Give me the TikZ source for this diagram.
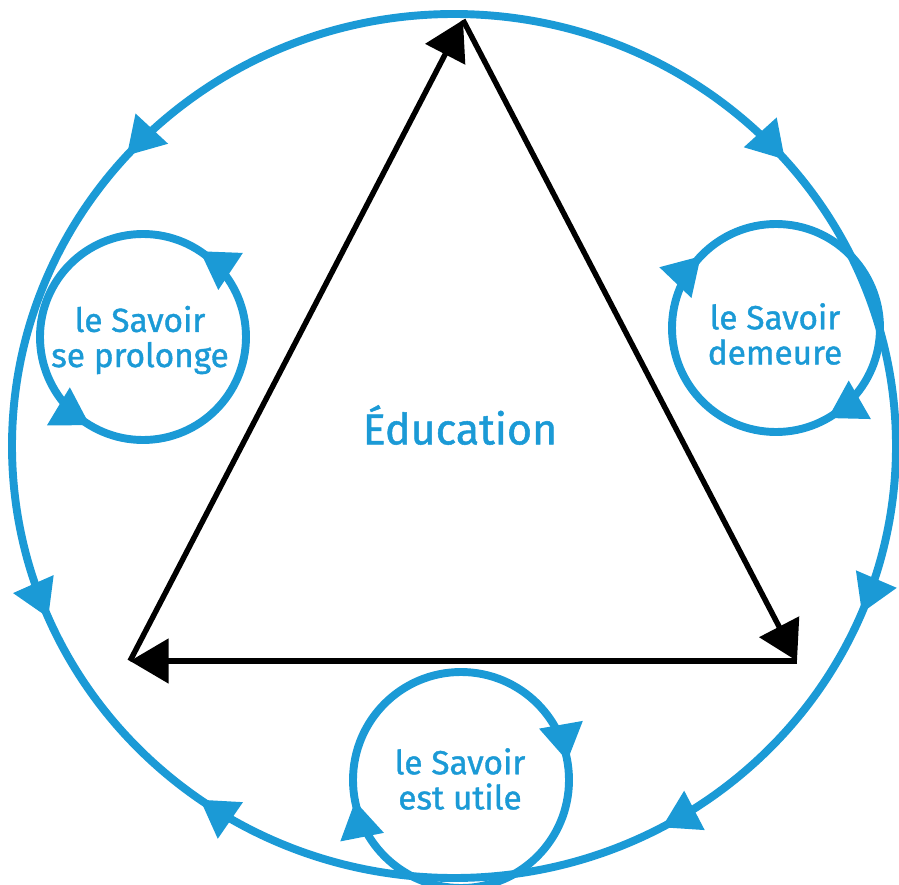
\documentclass[tikz,border=0pt]{standalone}
\usepackage{fontspec}
\setmainfont{Fira Sans}[FakeBold=1.2]
\usetikzlibrary{arrows.meta,decorations.markings}
\definecolor{savoirblue}{RGB}{27,154,214}

\tikzset{
	cycleline/.style={savoirblue, line width=4.5pt},
	tipfwd/.style={postaction={decorate, decoration={markings,
		mark=at position #1 with {\arrow{Triangle[length=21pt,width=24pt]}}}}},
	tipback/.style={postaction={decorate, decoration={markings,
		mark=at position #1 with {\arrowreversed{Triangle[length=21pt,width=24pt]}}}}},
	side/.style={black, line width=3.1pt, -{Triangle[length=22pt,width=25pt]}},
	savoirtext/.style={text=savoirblue, align=center, font=\fontsize{19}{20}\selectfont},
	edutext/.style={text=savoirblue, font=\fontsize{24.5}{28}\selectfont}
}

\begin{document}
\begin{tikzpicture}[x=0.02cm, y=-0.02cm]
	\useasboundingbox (0,0) rectangle (899,885);
	% outer cycle
	\coordinate (mid) at (454,446);
	\draw[cycleline, tipfwd=0.0625, tipfwd=0.1714, tipfwd=0.3483, tipback=0.4356,
		tipback=0.6164, tipfwd=0.8856] (mid) ellipse [x radius=442, y radius=432];
	% triangle
	\coordinate (apex) at (463,20);
	\coordinate (cornerL) at (130,661);
	\coordinate (cornerR) at (797,661);
	\draw[side] (cornerL) -- (apex);
	\draw[side] (apex) -- (cornerR);
	\draw[side] (cornerR) -- (cornerL);
	\node[edutext] (edu) at (460,425) {Éducation};
	% small cycles
	\coordinate (prolonge) at (143,337);
	\draw[cycleline, tipback=0.336, tipback=0.843] (prolonge) circle [radius=103];
	\node[savoirtext] (prolongeText) at (140,340) {le Savoir\\se prolonge};
	\coordinate (demeure) at (776,328);
	\draw[cycleline, tipfwd=0.167, tipfwd=0.6217] (demeure) circle [radius=104];
	\node[savoirtext] (demeureText) at (775,334) {le Savoir\\demeure};
	\coordinate (utile) at (461,780);
	\draw[cycleline, tipfwd=0.469, tipfwd=0.972] (utile) circle [radius=108];
	\node[savoirtext] (utileText) at (460,779) {le Savoir\\est utile};
\end{tikzpicture}
\end{document}
